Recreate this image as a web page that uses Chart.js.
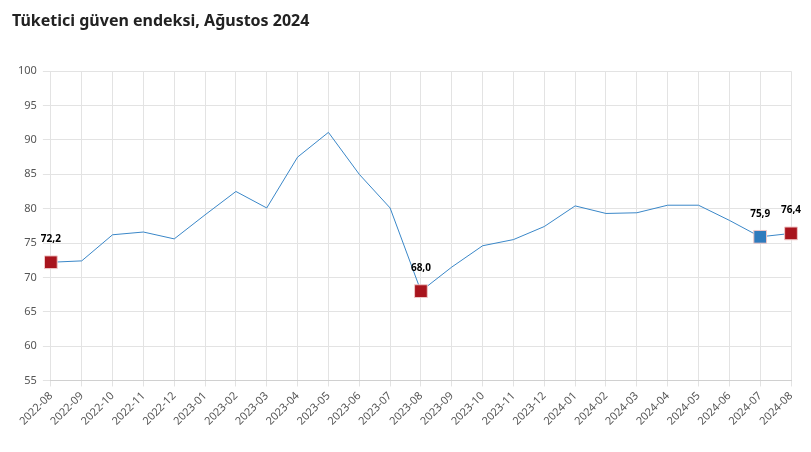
<!DOCTYPE html>
<html>
<head>
<meta charset="utf-8">
<script src="https://cdn.jsdelivr.net/npm/chart.js@4.4.1/dist/chart.umd.min.js"></script>
<style>
  html, body { margin: 0; padding: 0; background: #fff; }
  #wrap { width: 811px; height: 452px; position: relative; }
</style>
</head>
<body>
<div id="wrap"><canvas id="chart"></canvas></div>
<script>
// months and index values
var months = ["2022-08", "2022-09", "2022-10", "2022-11", "2022-12", "2023-01", "2023-02", "2023-03",
    "2023-04", "2023-05", "2023-06", "2023-07", "2023-08", "2023-09", "2023-10", "2023-11", "2023-12",
    "2024-01", "2024-02", "2024-03", "2024-04", "2024-05", "2024-06", "2024-07", "2024-08"];
var endeks = [72.2, 72.4, 76.2, 76.6, 75.6, 79.1, 82.5, 80.1, 87.5, 91.1, 85.0, 80.1, 68.0,
    71.5, 74.6, 75.5, 77.4, 80.4, 79.3, 79.4, 80.5, 80.5, 78.3, 75.9, 76.4];
var redPoints = ["2022-08", "2023-08", "2024-08"];
var bluePoints = ["2024-07"];
var yTicks = [55, 60, 65, 70, 75, 80, 85, 90, 95, 100];

var pointColors = [];
var pointSizes = [];
for (var i = 0; i < months.length; i++) {
    if (redPoints.indexOf(months[i]) !== -1) {
        pointColors.push('#a8141d');
        pointSizes.push(9);
    } else if (bluePoints.indexOf(months[i]) !== -1) {
        pointColors.push('#2f7bbd');
        pointSizes.push(9);
    } else {
        pointColors.push('#3a87c8');
        pointSizes.push(0);
    }
}

// writes value above the marked points
var valueLabels = {
    id: 'valueLabels',
    afterDatasetsDraw: function (chart) {
        var ctx = chart.ctx;
        var meta = chart.getDatasetMeta(0);
        ctx.save();
        ctx.font = 'bold 10px "Noto Sans", sans-serif';
        ctx.fillStyle = '#000';
        ctx.textAlign = 'center';
        ctx.textBaseline = 'middle';
        meta.data.forEach(function (pt, idx) {
            if (pointSizes[idx] > 0) {
                ctx.fillText(endeks[idx].toFixed(1).replace('.', ','), pt.x, pt.y - 23);
            }
        });
        ctx.restore();
    }
};

var ctx = document.getElementById("chart").getContext("2d");
var chart = new Chart(ctx, {
    type: 'line',
    data: {
        labels: months,
        datasets: [{
            label: 'Tüketici güven endeksi',
            data: endeks,
            borderColor: '#3a87c8',
            borderWidth: 1,
            tension: 0,
            pointStyle: 'rect',
            pointRadius: pointSizes,
            pointHoverRadius: pointSizes,
            pointBackgroundColor: pointColors,
            pointBorderColor: '#f0c8c8',
            pointBorderWidth: 1
        }]
    },
    options: {
        responsive: true,
        maintainAspectRatio: false,
        animation: false,
        layout: { padding: { left: 12, right: 20, top: 0, bottom: 21 } },
        plugins: {
            legend: { display: false },
            tooltip: { enabled: false },
            title: {
                display: true,
                text: 'Tüketici güven endeksi, Ağustos 2024',
                align: 'start',
                color: '#222',
                font: { family: '"Noto Sans", sans-serif', size: 16, weight: 'bold' },
                padding: { top: 12, bottom: 40 }
            }
        },
        scales: {
            x: {
                offset: false,
                grid: { color: '#e3e3e3', drawTicks: true, tickLength: 6 },
                border: { color: '#d0d0d0' },
                ticks: {
                    color: '#555',
                    font: { family: '"Noto Sans", sans-serif', size: 11 },
                    minRotation: 45,
                    maxRotation: 45,
                    autoSkip: false
                }
            },
            y: {
                min: yTicks[0],
                max: yTicks[yTicks.length - 1],
                afterBuildTicks: function (axis) {
                    axis.ticks = yTicks.map(function (v) { return { value: v }; });
                },
                grid: { color: '#e3e3e3', drawTicks: true, tickLength: 8 },
                border: { display: false },
                ticks: {
                    color: '#555',
                    font: { family: '"Noto Sans", sans-serif', size: 11 },
                    padding: 6
                }
            }
        }
    },
    plugins: [valueLabels]
});
</script>
</body>
</html>
